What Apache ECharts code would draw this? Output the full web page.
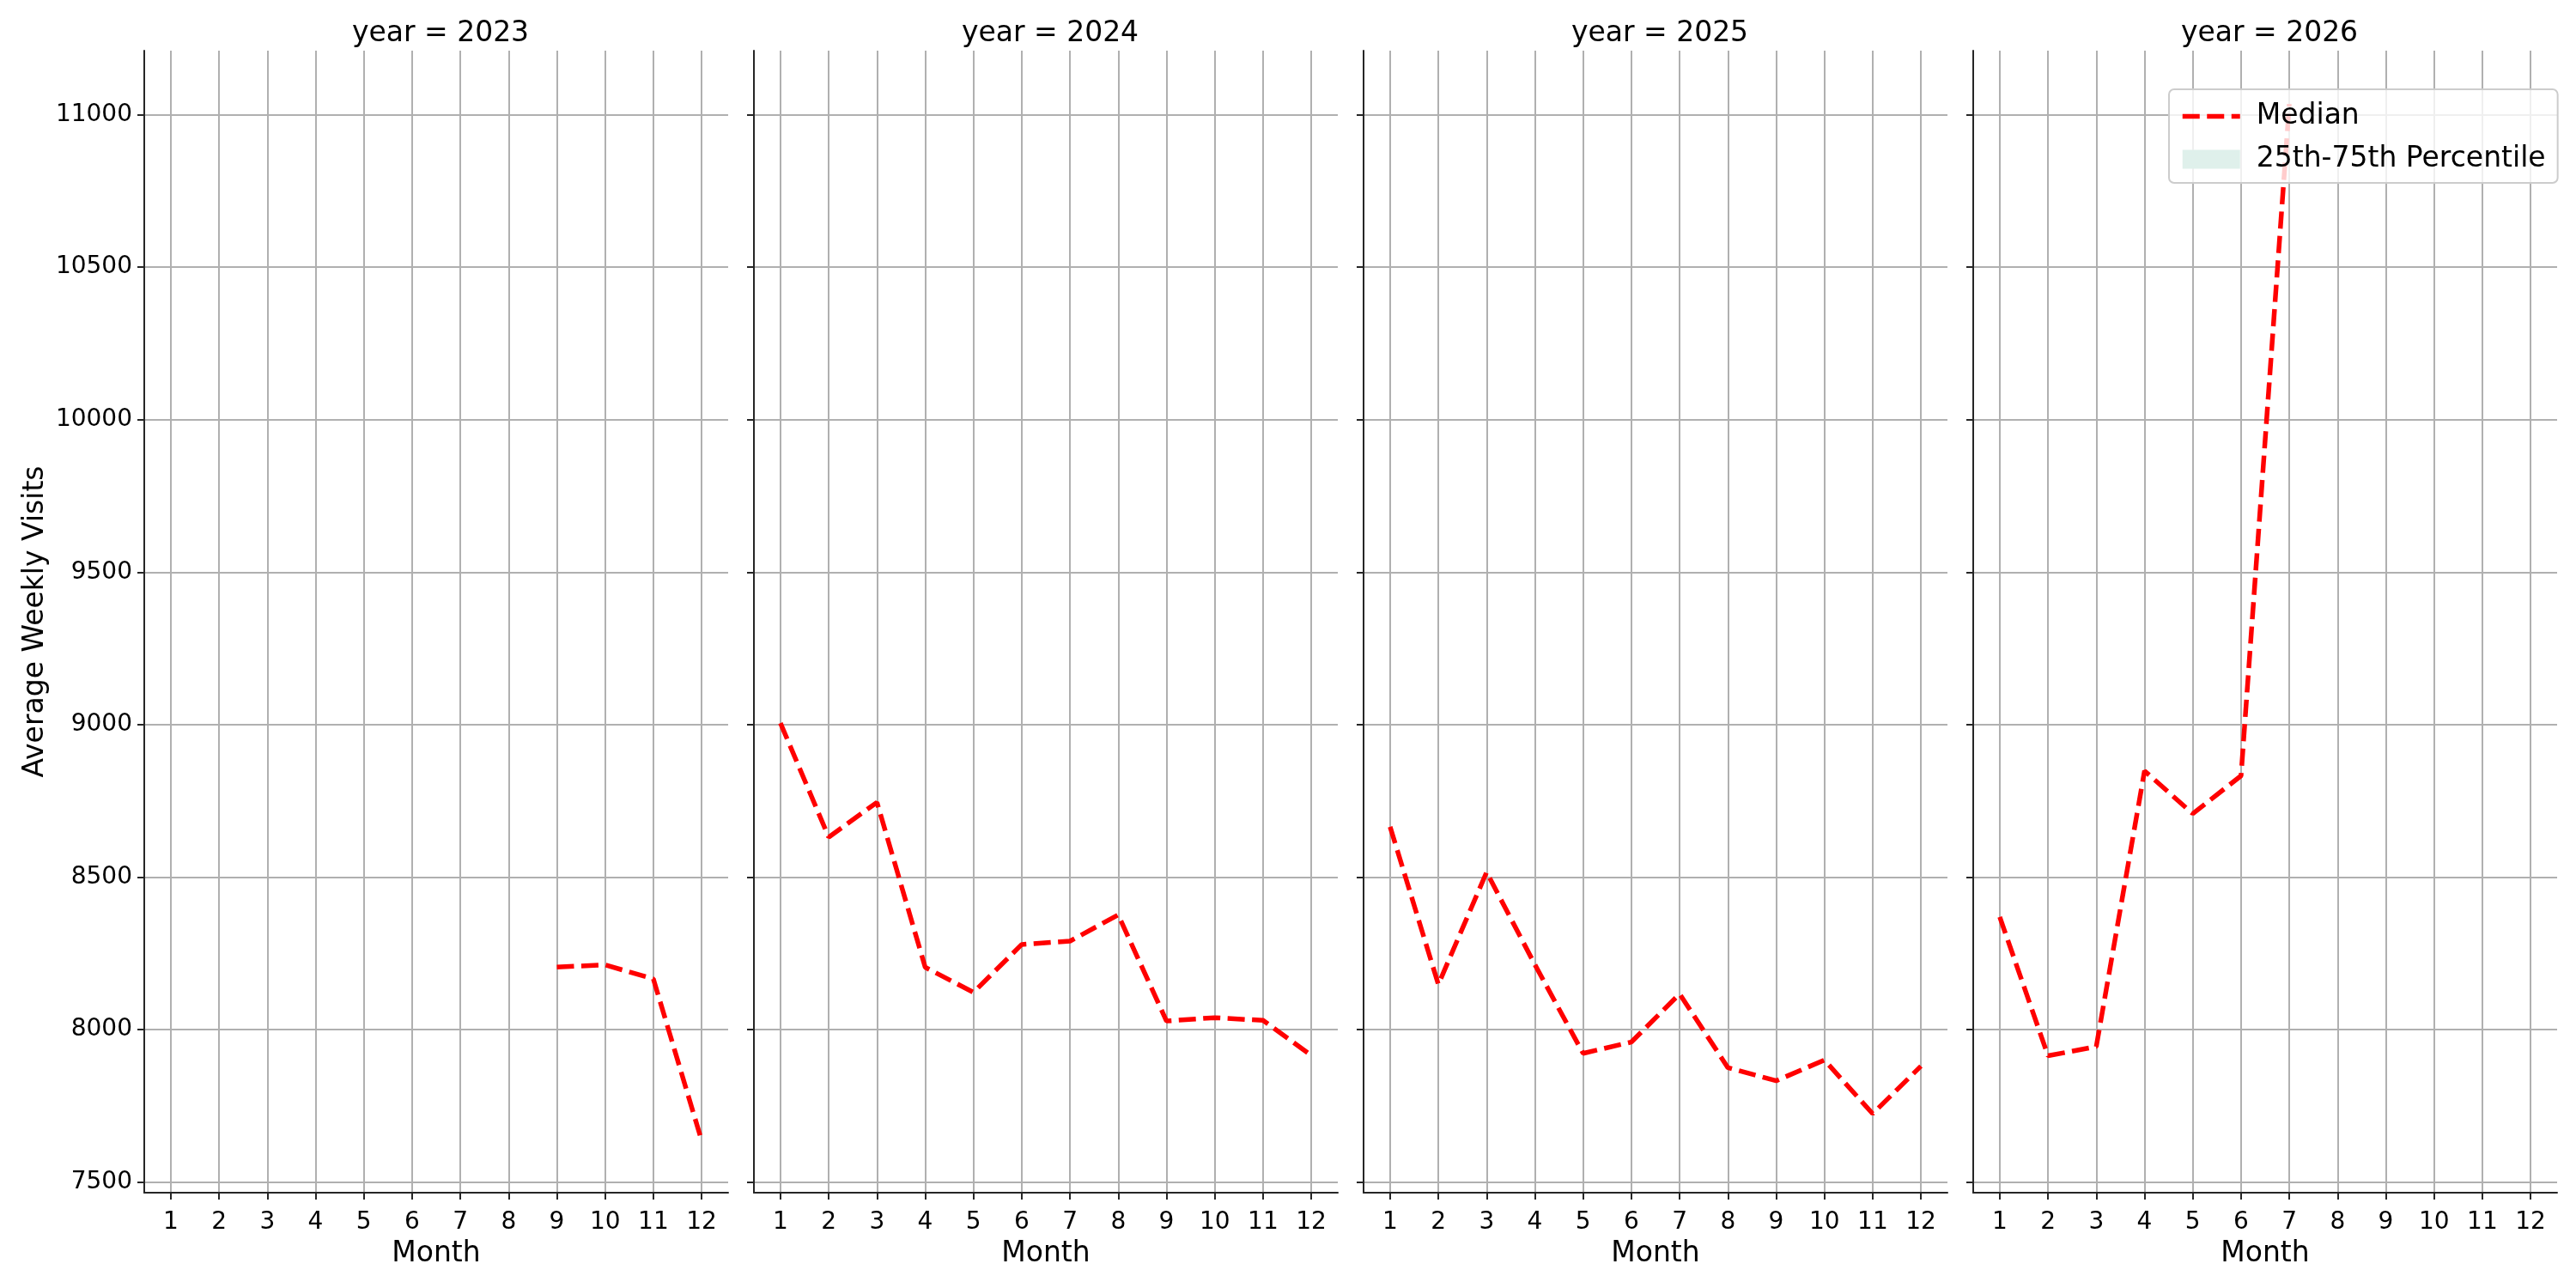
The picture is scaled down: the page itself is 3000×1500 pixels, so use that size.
<!DOCTYPE html>
<html>
<head>
<meta charset="utf-8">
<script src="https://cdn.jsdelivr.net/npm/echarts@6/dist/echarts.min.js"></script>
<style>
  html, body { margin: 0; padding: 0; background: #fff; }
  #chart { width: 3000px; height: 1500px; }
</style>
</head>
<body>
<div id="chart"></div>
<script>
// data
const years = ['2023', '2024', '2025', '2026'];
const months = [1, 2, 3, 4, 5, 6, 7, 8, 9, 10, 11, 12];
const median2023 = [null, null, null, null, null, null, null, null, 8205, 8212, 8166, 7636];
const median2024 = [9005, 8631, 8745, 8204, 8122, 8279, 8290, 8376, 8028, 8039, 8030, 7915];
const median2025 = [8665, 8148, 8516, 8213, 7922, 7959, 8117, 7875, 7832, 7900, 7724, 7880];
const median2026 = [8369, 7914, 7944, 8848, 8708, 8832, 11035, null, null, null, null, null];
const yTicks = [7500, 8000, 8500, 9000, 9500, 10000, 10500, 11000];

const medians = [median2023, median2024, median2025, median2026];

const font = 'DejaVu Sans';
const axisColor = '#262626';
const gridColor = '#b0b0b0';
const medianStyle = { color: '#ff0000', width: 5.5, type: [20, 8.5] };

const panelLeft = 168, panelStep = 710, panelWidth = 680, panelTop = 59, panelHeight = 1330;

const grids = [], xAxes = [], yAxes = [], titles = [], series = [];

years.forEach((yr, i) => {
    const left = panelLeft + i * panelStep;
    grids.push({ left: left, top: panelTop, width: panelWidth, height: panelHeight });

    titles.push({
        text: 'year = ' + yr,
        left: left + panelWidth / 2,
        top: 18,
        textAlign: 'center',
        textStyle: { fontFamily: font, fontSize: 33, fontWeight: 'normal', color: '#000' }
    });

    xAxes.push({
        type: 'value',
        gridIndex: i,
        min: 0.45,
        max: 12.55,
        name: 'Month',
        nameLocation: 'middle',
        nameGap: 55,
        nameTextStyle: { fontFamily: font, fontSize: 33, color: '#000' },
        axisLine: { show: true, onZero: false, lineStyle: { color: axisColor, width: 2 } },
        axisTick: { show: true, length: 8, customValues: months, lineStyle: { color: axisColor, width: 2 } },
        axisLabel: { customValues: months, margin: 21, fontFamily: font, fontSize: 28, color: '#000' },
        splitLine: { show: true, lineStyle: { color: gridColor, width: 2 } }
    });

    yAxes.push({
        type: 'value',
        gridIndex: i,
        min: 7465,
        max: 11210,
        name: i === 0 ? 'Average Weekly Visits' : '',
        nameLocation: 'middle',
        nameGap: 110,
        nameTextStyle: { fontFamily: font, fontSize: 33, color: '#000' },
        axisLine: { show: true, lineStyle: { color: axisColor, width: 2 } },
        axisTick: { show: true, length: 8, customValues: yTicks, lineStyle: { color: axisColor, width: 2 } },
        axisLabel: {
            show: i === 0,
            customValues: yTicks,
            margin: 14,
            formatter: v => String(v),
            fontFamily: font,
            fontSize: 28,
            color: '#000'
        },
        splitLine: { show: true, lineStyle: { color: gridColor, width: 2 } }
    });

    const pts = [];
    months.forEach((m, k) => {
        if (medians[i][k] !== null) pts.push([m, medians[i][k]]);
    });

    series.push({
        name: 'Median',
        type: 'line',
        xAxisIndex: i,
        yAxisIndex: i,
        data: pts,
        symbol: 'none',
        lineStyle: medianStyle,
        itemStyle: { color: '#ff0000' },
        z: 3
    });
});

// percentile band: empty in the source picture, only shown in the legend
series.push({
    name: '25th-75th Percentile',
    type: 'line',
    xAxisIndex: 3,
    yAxisIndex: 3,
    data: [],
    symbol: 'none',
    lineStyle: { opacity: 0 },
    areaStyle: { color: '#dff0eb' },
    itemStyle: { color: '#dff0eb' }
});

const option = {
    backgroundColor: '#fff',
    animation: false,
    title: titles,
    grid: grids,
    xAxis: xAxes,
    yAxis: yAxes,
    legend: {
        orient: 'vertical',
        left: 2526,
        top: 104,
        padding: [15, 14, 11, 13],
        itemGap: 17,
        itemWidth: 67,
        itemHeight: 22,
        backgroundColor: 'rgba(255,255,255,0.8)',
        borderColor: '#cccccc',
        borderWidth: 2,
        borderRadius: 6,
        textStyle: { fontFamily: font, fontSize: 33, color: '#000', padding: [0, 0, 0, 14] },
        data: [
            { name: 'Median', itemStyle: { opacity: 0 }, lineStyle: medianStyle },
            { name: '25th-75th Percentile', icon: 'rect', itemStyle: { color: '#dff0eb' } }
        ]
    },
    series: series
};

const chart = echarts.init(document.getElementById('chart'));
chart.setOption(option);
</script>
</body>
</html>
